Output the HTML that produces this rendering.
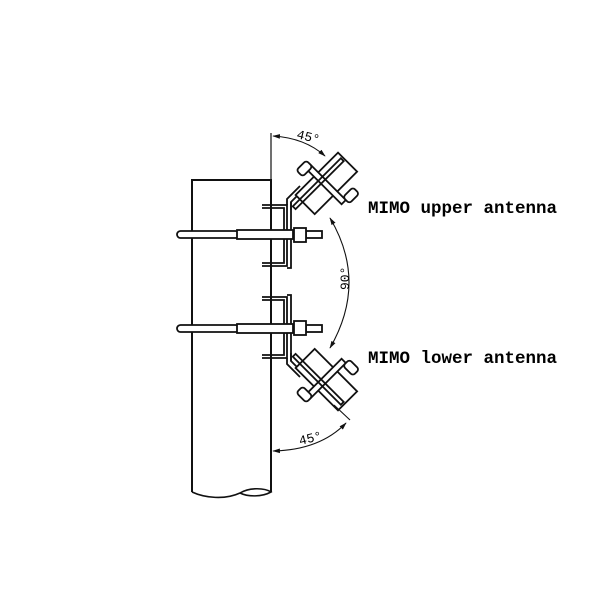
<!DOCTYPE html>
<html><head><style>
body{margin:0;background:#fff;}
svg{display:block}
text{font-family:"Liberation Mono",monospace;}
</style></head><body>
<svg width="600" height="600" viewBox="0 0 600 600" xmlns="http://www.w3.org/2000/svg">
<defs>
<marker id="ar" viewBox="0 0 10 10" refX="9" refY="5" markerWidth="7" markerHeight="7" orient="auto-start-reverse"><path d="M0,2 L10,5 L0,8 z" fill="#111"/></marker>
<g id="ant" fill="#fff" stroke="#111" stroke-width="1.8">
  <path d="M262,205 H287 V266 H262 M262,208 H284 V263 H262" fill="none"/>
  <path d="M287,205 V199 L300,186 M291,210 V202 L303,190" fill="none"/>
  <path d="M291,202 V268 H287" fill="none"/>
  <rect x="177" y="231" width="62" height="7" rx="3.5"/>
  <rect x="237" y="230" width="56" height="9"/>
  <rect x="306" y="231" width="16" height="7"/>
  <rect x="294" y="228" width="12" height="14"/>
  <g transform="translate(326,183) rotate(-45)">
    <rect x="-30" y="-13" width="60" height="27"/>
    <rect x="-4" y="-24" width="6" height="50"/>
    <rect x="-12" y="-30" width="14" height="9" rx="3"/>
    <rect x="2" y="22" width="14" height="9" rx="3"/>
    <rect x="-40" y="-7" width="68" height="4" fill="none"/>
  </g>
</g>
</defs>
<path d="M192,492 V180 H271 V492" fill="none" stroke="#111" stroke-width="2"/>
<path d="M192,492 C205,498 225,500 240,493 C250,487 265,488 271,492 C262,497 248,497 240,493" fill="none" stroke="#111" stroke-width="1.6"/>
<line x1="271" y1="133" x2="271" y2="180" stroke="#111" stroke-width="1.2"/>
<use href="#ant"/>
<use href="#ant" transform="translate(0,563) scale(1,-1)"/>
<path d="M273,136 Q305,138 325,156" fill="none" stroke="#111" stroke-width="1.1" marker-start="url(#ar)" marker-end="url(#ar)"/>
<path d="M330,218 Q368,282 330,348" fill="none" stroke="#111" stroke-width="1.1" marker-start="url(#ar)" marker-end="url(#ar)"/>
<path d="M273,451 Q320,450 346,423" fill="none" stroke="#111" stroke-width="1.1" marker-start="url(#ar)" marker-end="url(#ar)"/>
<line x1="334" y1="405" x2="350" y2="420" stroke="#111" stroke-width="1.1"/>
<text x="296" y="138" font-size="13" font-family="Liberation Sans" transform="rotate(14 296 138)">45°</text>
<text x="349" y="290" font-size="13" font-family="Liberation Sans" transform="rotate(-90 349 290)">90°</text>
<text x="300" y="445" font-size="13" font-family="Liberation Sans" transform="rotate(-14 300 445)">45°</text>
<text x="368" y="213" font-size="17.5" font-weight="bold">MIMO upper antenna</text>
<text x="368" y="363" font-size="17.5" font-weight="bold">MIMO lower antenna</text>
</svg>
</body></html>
